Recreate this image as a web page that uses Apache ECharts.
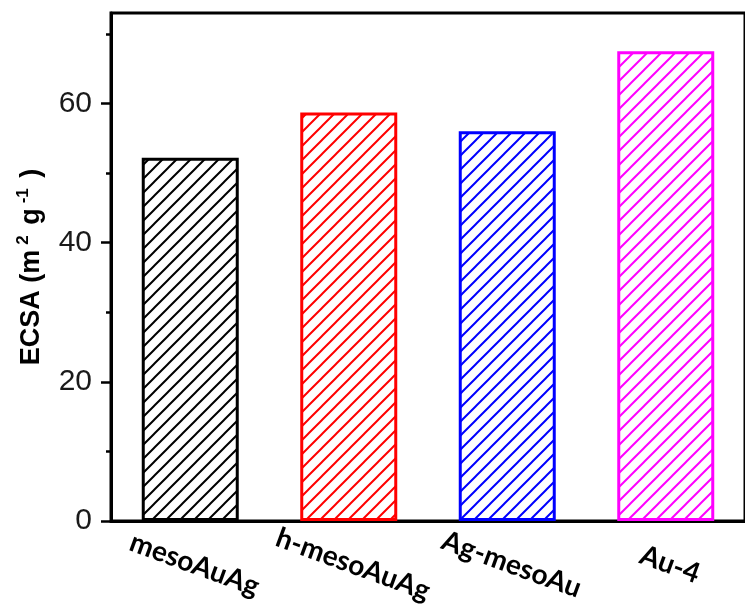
<!DOCTYPE html>
<html>
<head>
<meta charset="utf-8">
<script src="https://cdn.jsdelivr.net/npm/echarts@6/dist/echarts.min.js"></script>
<style>
  html, body { margin: 0; padding: 0; background: #fff; }
  #chart { width: 745px; height: 611px; }
</style>
</head>
<body>
<div id="chart"></div>
<script>
const categories = ['mesoAuAg', 'h-mesoAuAg', 'Ag-mesoAu', 'Au-4'];
const ecsaValues = [52.2, 58.7, 56.0, 67.5];
const barColors = ['#000000', '#ff0000', '#0000ff', '#ff00ff'];
const yMajorTicks = [0, 20, 40, 60];
const yMinorTicks = [10, 30, 50, 70];
const yMin = 0;
const yMax = 73;

function hatch(color) {
  const p = 14;
  const c = document.createElement('canvas');
  c.width = p; c.height = p;
  const g = c.getContext('2d');
  g.strokeStyle = color;
  g.lineWidth = 2;
  g.beginPath();
  g.moveTo(0, p); g.lineTo(p, 0);
  g.moveTo(-p / 2, p / 2); g.lineTo(p / 2, -p / 2);
  g.moveTo(p / 2, p * 1.5); g.lineTo(p * 1.5, p / 2);
  g.stroke();
  return c;
}

const chart = echarts.init(document.getElementById('chart'), null, { renderer: 'canvas' });

const option = {
  animation: false,
  backgroundColor: '#ffffff',
  grid: {
    left: 111, top: 13, right: -6, bottom: 90,
    show: true, borderColor: '#000', borderWidth: 3, backgroundColor: 'transparent'
  },
  xAxis: {
    type: 'category',
    data: categories,
    axisLine: { lineStyle: { color: '#000', width: 3 } },
    axisTick: { alignWithLabel: true, length: 10, lineStyle: { color: '#000', width: 2.5 } },
    axisLabel: {
      rotate: -20, align: 'center', verticalAlign: 'middle', margin: 42,
      padding: [0, 0, 0, 9],
      fontFamily: 'Lato', fontWeight: 'bold', fontSize: 28, color: '#000'
    },
    splitLine: { show: false }
  },
  yAxis: [
    {
      type: 'value', min: yMin, max: yMax, position: 'left',
      axisLine: { show: true, lineStyle: { color: '#000', width: 3 } },
      axisTick: { show: true, customValues: yMajorTicks, length: 10, lineStyle: { color: '#000', width: 2.5 } },
      axisLabel: {
        customValues: yMajorTicks, margin: 19,
        fontFamily: 'Liberation Sans', fontSize: 30, color: '#1a1a1a'
      },
      splitLine: { show: false },
      name: '{b|ECSA (m}{sup|2}{b| g}{sup|-1}{b| )}',
      nameLocation: 'middle',
      nameRotate: 90,
      nameGap: 62,
      nameTextStyle: {
        rich: {
          b: { fontFamily: 'Liberation Sans', fontWeight: 'bold', fontSize: 27, color: '#000', lineHeight: 34 },
          sup: { fontFamily: 'Liberation Sans', fontWeight: 'bold', fontSize: 17, color: '#000', verticalAlign: 'top', lineHeight: 34, padding: [0, 3, 0, 5] }
        }
      }
    },
    {
      type: 'value', min: yMin, max: yMax, position: 'left',
      axisLine: { show: false },
      axisTick: { show: true, customValues: yMinorTicks, length: 5, lineStyle: { color: '#000', width: 2.5 } },
      axisLabel: { show: false },
      splitLine: { show: false }
    }
  ],
  series: [{
    type: 'bar',
    yAxisIndex: 0,
    barWidth: 97,
    silent: true,
    emphasis: { disabled: true },
    data: ecsaValues.map((v, i) => ({
      value: v,
      itemStyle: {
        color: { image: hatch(barColors[i]), repeat: 'repeat' },
        borderColor: barColors[i],
        borderWidth: 3
      }
    }))
  }]
};

chart.setOption(option);
</script>
</body>
</html>
